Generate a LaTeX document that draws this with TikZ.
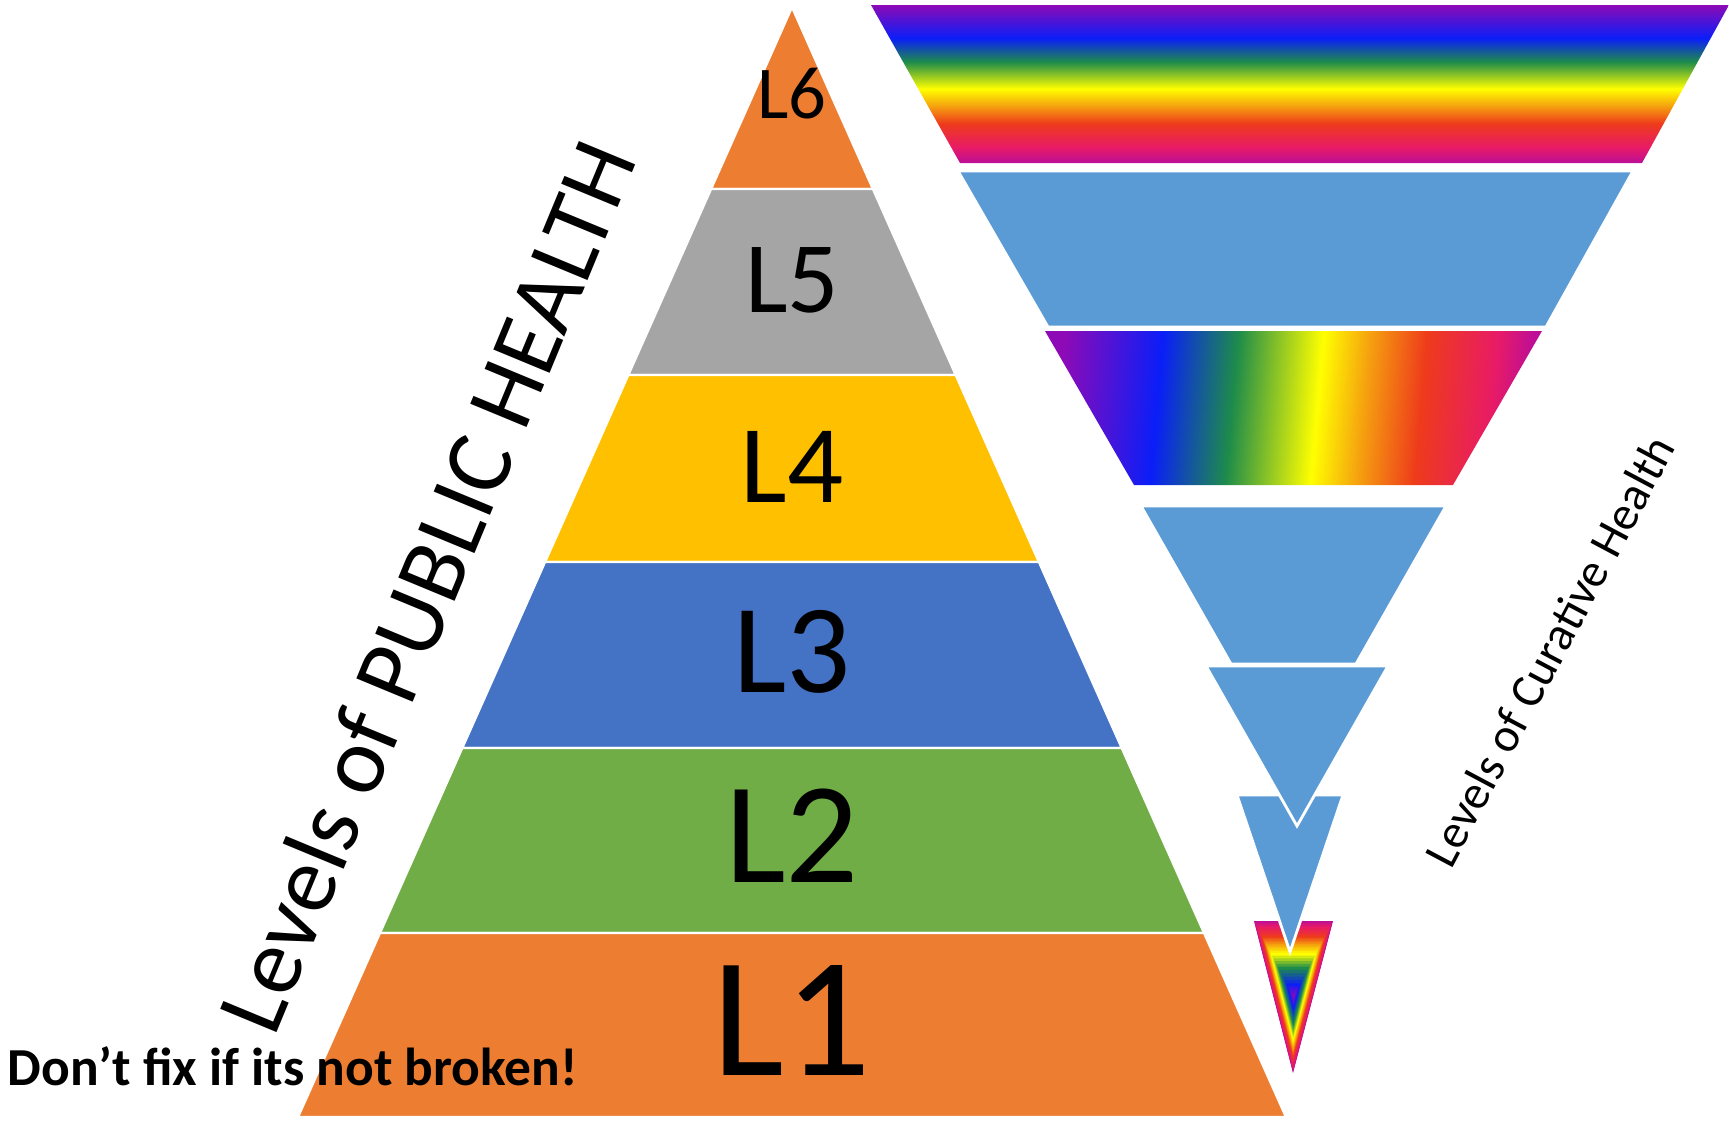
\documentclass[tikz,border=0pt]{standalone}
\usepackage{fontspec}
\setmainfont{Carlito}
\usetikzlibrary{calc}
\definecolor{offOrange}{HTML}{ED7D31}
\definecolor{offGray}{HTML}{A5A5A5}
\definecolor{offGold}{HTML}{FFC000}
\definecolor{offBlue}{HTML}{4472C4}
\definecolor{offGreen}{HTML}{70AD47}
\definecolor{offLight}{HTML}{5B9BD5}
\definecolor{rbPurple}{HTML}{8E0AB6}
\definecolor{rbBlue}{HTML}{0A1EF8}
\definecolor{rbGreen}{HTML}{1E8C4A}
\definecolor{rbYellow}{HTML}{FFFF00}
\definecolor{rbOrange}{HTML}{F5A00F}
\definecolor{rbRed}{HTML}{EE3B1B}
\definecolor{rbPink}{HTML}{E81B66}
\definecolor{rbMag}{HTML}{BC0E98}
\pgfdeclareverticalshading{rbv}{100bp}{color(0bp)=(rbMag); color(25bp)=(rbMag); color(30bp)=(rbPink); color(37.5bp)=(rbRed); color(43bp)=(rbOrange); color(48.5bp)=(rbYellow); color(57bp)=(rbGreen); color(64.5bp)=(rbBlue); color(75bp)=(rbPurple); color(100bp)=(rbPurple)}
\pgfdeclarehorizontalshading{rbh}{100bp}{color(0bp)=(rbPurple); color(25bp)=(rbPurple); color(35.5bp)=(rbBlue); color(43.5bp)=(rbGreen); color(52.5bp)=(rbYellow); color(57.5bp)=(rbOrange); color(63.5bp)=(rbRed); color(71bp)=(rbPink); color(75bp)=(rbMag); color(100bp)=(rbMag)}
\begin{document}
\begin{tikzpicture}[x=0.01cm,y=-0.01cm,
  layer/.style={draw=white,line width=0.7pt},
  ilayer/.style={draw=white,line width=0.8pt,fill=offLight},
  lvl/.style={anchor=base,inner sep=0pt,text=black}]
\useasboundingbox (0,0) rectangle (1729,1124);
% ---------- left pyramid ----------
\fill[layer,fill=offOrange] (792,7) -- (873,189) -- (711,189) -- cycle;
\fill[layer,fill=offGray] (711,189) -- (873,189) -- (955.8,375) -- (628.2,375) -- cycle;
\fill[layer,fill=offGold] (628.2,375) -- (955.8,375) -- (1039,562) -- (545,562) -- cycle;
\fill[layer,fill=offBlue] (545,562) -- (1039,562) -- (1121.8,748) -- (462.2,748) -- cycle;
\fill[layer,fill=offGreen] (462.2,748) -- (1121.8,748) -- (1204.1,933) -- (379.9,933) -- cycle;
\fill[layer,fill=offOrange] (379.9,933) -- (1204.1,933) -- (1286,1117) -- (298,1117) -- cycle;
\node[lvl,font=\fontsize{21.2}{24}\selectfont] (l6) at (792,118) {L6};
\node[lvl,font=\fontsize{28.8}{32}\selectfont] (l5) at (792,312) {L5};
\node[lvl,font=\fontsize{31.5}{35}\selectfont] (l4) at (792,502) {L4};
\node[lvl,font=\fontsize{36}{40}\selectfont] (l3) at (792,692) {L3};
\node[lvl,font=\fontsize{41}{45}\selectfont] (l2) at (792,882) {L2};
\node[lvl,font=\fontsize{48.6}{52}\selectfont] (l1) at (792,1075) {L1};
\node[rotate=67.5,anchor=base west,inner sep=0pt,font=\fontsize{27}{30}\selectfont] (pub) at (274,1039) {Levels of PUBLIC HEALTH};
\node[anchor=base west,inner sep=0pt,font=\bfseries\fontsize{15.2}{18}\selectfont] (fix) at (7,1085) {Don’t fix if its not broken!};
% ---------- inverted pyramid ----------
\coordinate (v1) at (1254,921);
\coordinate (v2) at (1333,921);
\coordinate (v3) at (1293,1073);
\coordinate (vc) at (1293.5,997);
\foreach \ta/\tb/\ca/\cb in {1/0.93/rbMag/rbPink, 0.93/0.8/rbPink/rbRed, 0.8/0.7/rbRed/rbOrange, 0.7/0.58/rbOrange/rbYellow, 0.58/0.4/rbYellow/rbGreen, 0.4/0.18/rbGreen/rbBlue, 0.18/0.02/rbBlue/rbPurple}{
  \foreach \k in {0,...,4}{
    \pgfmathsetmacro\tS{\ta-(\ta-\tb)*\k/5}
    \pgfmathtruncatemacro\pmix{100-20*\k}
    \fill[\ca!\pmix!\cb] ($(vc)!\tS!(v1)$) -- ($(vc)!\tS!(v2)$) -- ($(vc)!\tS!(v3)$) -- cycle;
  }
}
\path[ilayer] (1237,795) -- (1343,795) -- (1290,952) -- cycle;
\path[ilayer] (1206,666) -- (1388,666) -- (1297,826) -- cycle;
\path[ilayer] (1141,506) -- (1446,506) -- (1356,664) -- (1231,664) -- cycle;
\shade[shading=rbh,shading angle=-5] (1045,331) -- (1542,331) -- (1453,485) -- (1134,485) -- cycle;
\path[ilayer] (958,171) -- (1633,171) -- (1546,327) -- (1048,327) -- cycle;
\shade[shading=rbv] (871,5) -- (1729,5) -- (1642,163) -- (960,163) -- cycle;
\node[rotate=62,anchor=base west,inner sep=0pt,font=\fontsize{13.6}{15}\selectfont] (cur) at (1451,871) {Levels of Curative Health};
\end{tikzpicture}
\end{document}
